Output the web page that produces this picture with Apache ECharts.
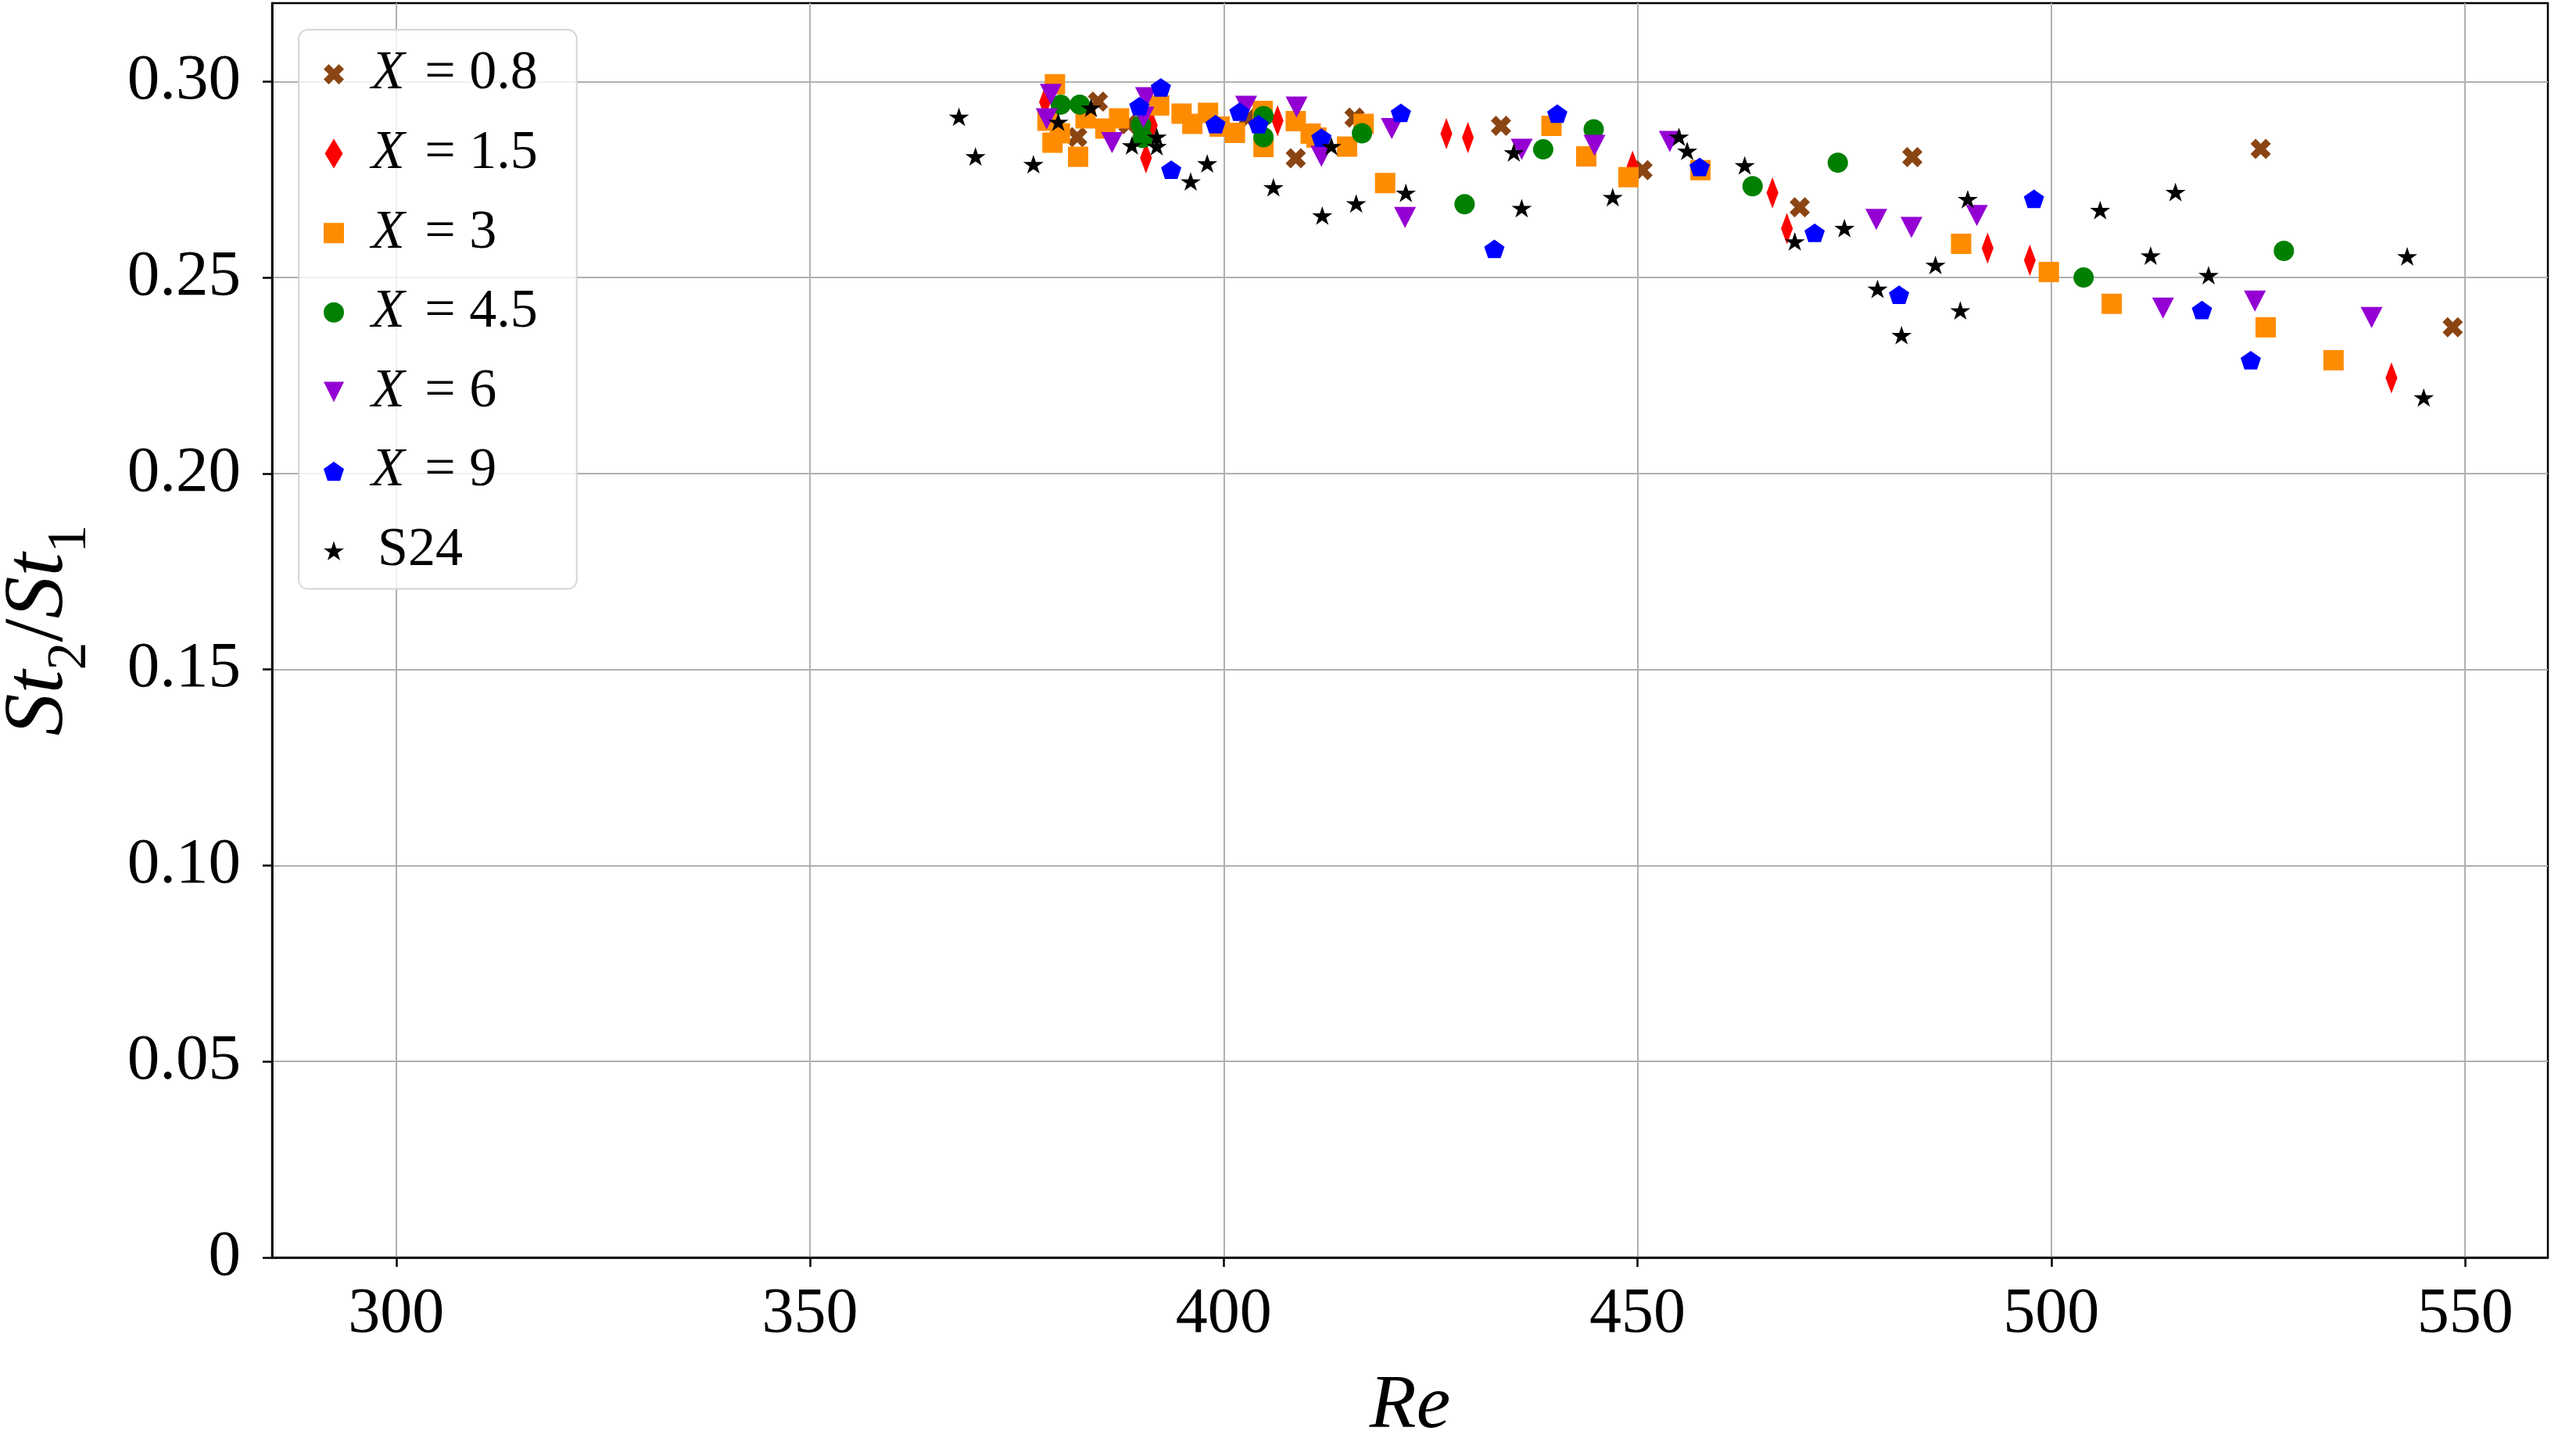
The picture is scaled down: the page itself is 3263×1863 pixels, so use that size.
<!DOCTYPE html>
<html>
<head>
<meta charset="utf-8">
<script src="https://cdn.jsdelivr.net/npm/echarts@6/dist/echarts.min.js"></script>
<style>
html,body{margin:0;padding:0;background:#fff;}
#chart{width:3263px;height:1863px;}
</style>
</head>
<body>
<div id="chart"></div>
<script>
// ---- data (Re, St2/St1) ----
const seriesNames = ['X = 0.8', 'X = 1.5', 'X = 3', 'X = 4.5', 'X = 6', 'X = 9', 'S24'];

const reX08 = [382.3, 384.8, 388.5, 402.9, 408.7, 415.8, 433.5, 450.6, 469.6, 483.2, 525.3, 548.5];
const stX08 = [0.2858, 0.2949, 0.2891, 0.2906, 0.2804, 0.2908, 0.2887, 0.2774, 0.2679, 0.2807, 0.2828, 0.2373];

const reX15 = [378.4, 390.6, 391.3, 406.5, 426.9, 429.5, 449.4, 466.3, 468.05, 492.3, 497.4, 541.1];
const stX15 = [0.2948, 0.2805, 0.2888, 0.2900, 0.2867, 0.2857, 0.2784, 0.2716, 0.2625, 0.2575, 0.2544, 0.2244];

const reX3 = [379.6, 378.7, 379.3, 380.2, 382.4, 383.3, 385.7, 387.35, 392.2, 394.9, 396.2, 398.1, 399.5, 401.35, 404.7, 404.8,
              408.7, 410.5, 411.2, 414.9, 416.9, 419.5, 439.6, 443.8, 448.9, 457.6, 489.1, 499.7, 507.3, 525.9, 534.1];
const stX3 = [0.2993, 0.2900, 0.2844, 0.2868, 0.2808, 0.2906, 0.2880, 0.2906, 0.2939, 0.2918, 0.2892, 0.2920, 0.2885, 0.2869, 0.2925, 0.2833,
              0.2899, 0.2867, 0.2857, 0.2834, 0.2892, 0.2741, 0.2887, 0.2809, 0.2756, 0.2774, 0.2586, 0.2514, 0.2433, 0.2373, 0.2289];

const reX45 = [380.3, 382.6, 390.0, 390.2, 404.8, 404.8, 416.7, 429.1, 438.6, 444.7, 463.9, 474.2, 503.9, 528.1];
const stX45 = [0.2941, 0.2941, 0.2889, 0.2856, 0.2912, 0.2858, 0.2868, 0.2687, 0.2827, 0.2878, 0.2733, 0.2793, 0.2500, 0.2568];

const reX6 = [379.1, 378.6, 386.5, 390.6, 390.3, 402.7, 408.8, 411.8, 420.3, 421.9, 436.0, 444.8, 453.9, 478.85, 483.1, 491.0, 513.5, 524.6, 538.7];
const stX6 = [0.2967, 0.2905, 0.2844, 0.2959, 0.2909, 0.2937, 0.2935, 0.2809, 0.2880, 0.2653, 0.2827, 0.2837, 0.2847, 0.2648, 0.2628, 0.2658, 0.2422, 0.2440, 0.2398];

const reX9 = [389.8, 392.4, 393.65, 399.0, 401.9, 404.2, 411.8, 421.4, 432.7, 440.3, 457.5, 471.4, 481.6, 497.9, 518.2, 524.1];
const stX9 = [0.2937, 0.2985, 0.2775, 0.2891, 0.2923, 0.2891, 0.2857, 0.2920, 0.2573, 0.2918, 0.2782, 0.2614, 0.2456, 0.2701, 0.2417, 0.2289];

const reS24 = [368.0, 370.0, 377.0, 380.0, 383.95, 388.9, 391.9, 391.9, 396.0, 398.0, 406.0, 411.9, 413.0, 416.0, 422.0, 435.05, 436.0,
               447.0, 455.0, 456.0, 462.95, 469.0, 475.0, 479.0, 481.9, 486.0, 489.0, 489.9, 505.9, 512.0, 515.0, 519.0, 543.0, 545.0];
const stS24 = [0.2910, 0.2809, 0.2789, 0.2897, 0.2933, 0.2837, 0.2859, 0.2835, 0.2745, 0.2791, 0.2730, 0.2658, 0.2835, 0.2689, 0.2716, 0.2819, 0.2677,
               0.2705, 0.2859, 0.2823, 0.2786, 0.2592, 0.2626, 0.2471, 0.2353, 0.2532, 0.2416, 0.2700, 0.2672, 0.2556, 0.2718, 0.2506, 0.2554, 0.2194];

const xTicks = [300, 350, 400, 450, 500, 550];
const yTicks = [0, 0.05, 0.10, 0.15, 0.20, 0.25, 0.30];

// ---- styling ----
const FONT = 'Liberation Serif';
const SYM_X = 'path://M15 0L20 5L15 10L20 15L15 20L10 15L5 20L0 15L5 10L0 5L5 0L10 5Z';
const SYM_DIAMOND = 'path://M115 0L230 190L115 380L0 190Z';
const SYM_SQUARE = 'path://M0 0L10 0L10 10L0 10Z';
const SYM_TRI_DOWN = 'path://M0 0L20 0L10 20Z';
const SYM_PENT = 'path://M100 0L4.9 69.1L41.2 180.9L158.8 180.9L195.1 69.1Z';
const SYM_STAR = 'path://M100 0L77.55 69.1L4.89 69.1L63.67 111.8L41.22 180.9L100 138.2L158.78 180.9L136.33 111.8L195.11 69.1L122.45 69.1Z';

function pairs(xs, ys) { return xs.map((x, i) => [x, ys[i]]); }

const specs = [
  { data: pairs(reX08, stX08), color: '#8B4513', symbol: SYM_X, size: 26 },
  { data: pairs(reX15, stX15), color: '#FF0000', symbol: SYM_DIAMOND, size: [25, 40] },
  { data: pairs(reX3, stX3), color: '#FF8C00', symbol: SYM_SQUARE, size: 26 },
  { data: pairs(reX45, stX45), color: '#008000', symbol: 'circle', size: 26 },
  { data: pairs(reX6, stX6), color: '#9400D3', symbol: SYM_TRI_DOWN, size: [28, 27] },
  { data: pairs(reX9, stX9), color: '#0000FF', symbol: SYM_PENT, size: [26, 25] },
  { data: pairs(reS24, stS24), color: '#000000', symbol: SYM_STAR, size: [26, 25] }
];

const series = specs.map((s, i) => ({
  name: seriesNames[i],
  type: 'scatter',
  data: s.data,
  symbol: s.symbol,
  symbolSize: s.size,
  symbolKeepAspect: true,
  itemStyle: { color: s.color, opacity: 1 },
  emphasis: { disabled: true },
  z: 2 + i * 0.01
}));

const chart = echarts.init(document.getElementById('chart'), null, { renderer: 'canvas' });
chart.setOption({
  animation: false,
  backgroundColor: '#ffffff',
  textStyle: { fontFamily: FONT, color: '#000' },
  grid: {
    left: 348, right: 4, top: 4, bottom: 254,
    outerBoundsMode: 'none',
    containLabel: false,
    show: true, borderColor: '#000', borderWidth: 2.5, backgroundColor: 'transparent'
  },
  legend: {
    orient: 'vertical',
    left: 382, top: 38,
    padding: [22, 50, 14, 32],
    itemWidth: 26, itemHeight: 38, itemGap: 31.6,
    symbolKeepAspect: true,
    backgroundColor: 'rgba(255,255,255,0.8)',
    borderColor: '#d6d6d6', borderWidth: 2, borderRadius: 12,
    data: seriesNames,
    formatter: function (name) {
      if (name.charAt(0) === 'X') return '{i|X}{n|' + name.slice(1) + '}';
      return '{p|' + name + '}';
    },
    textStyle: {
      fontFamily: FONT, fontSize: 70, color: '#000',
      rich: {
        i: { fontFamily: FONT, fontStyle: 'italic', fontSize: 70, lineHeight: 70, padding: [0, 8, 0, 30], color: '#000' },
        n: { fontFamily: FONT, fontSize: 70, lineHeight: 70, color: '#000' },
        p: { fontFamily: FONT, fontSize: 70, lineHeight: 70, padding: [0, 0, 0, 38], color: '#000' }
      }
    }
  },
  xAxis: {
    type: 'value', min: 285, max: 560,
    name: 'Re', nameLocation: 'middle', nameGap: 142,
    nameTextStyle: { fontFamily: FONT, fontStyle: 'italic', fontSize: 98, color: '#000' },
    axisLine: { show: true, onZero: false, lineStyle: { color: '#000', width: 2.5 } },
    axisTick: { show: true, inside: false, length: 12, lineStyle: { color: '#000', width: 2.5 }, customValues: xTicks },
    axisLabel: { show: true, margin: 32, fontFamily: FONT, fontSize: 82, color: '#000', customValues: xTicks },
    splitLine: { show: true, lineStyle: { color: '#b0b0b0', width: 2 } }
  },
  yAxis: {
    type: 'value', min: 0, max: 0.32,
    name: '{i|St}{s|2}{r|/}{i|St}{s|1}',
    nameLocation: 'middle', nameRotate: 90, nameGap: 243,
    nameTextStyle: {
      fontFamily: FONT, fontSize: 108, color: '#000',
      rich: {
        i: { fontFamily: FONT, fontStyle: 'italic', fontSize: 108, lineHeight: 108, color: '#000' },
        r: { fontFamily: FONT, fontSize: 108, lineHeight: 108, color: '#000' },
        s: { fontFamily: FONT, fontSize: 72, lineHeight: 72, padding: [78, 0, 0, 0], color: '#000' }
      }
    },
    axisLine: { show: true, onZero: false, lineStyle: { color: '#000', width: 2.5 } },
    axisTick: { show: true, inside: false, length: 12, lineStyle: { color: '#000', width: 2.5 }, customValues: yTicks },
    axisLabel: {
      show: true, margin: 40, fontFamily: FONT, fontSize: 83, color: '#000', customValues: yTicks,
      formatter: function (v) { return v === 0 ? '0' : v.toFixed(2); }
    },
    splitLine: { show: true, lineStyle: { color: '#b0b0b0', width: 2 } }
  },
  series: series
});
</script>
</body>
</html>
